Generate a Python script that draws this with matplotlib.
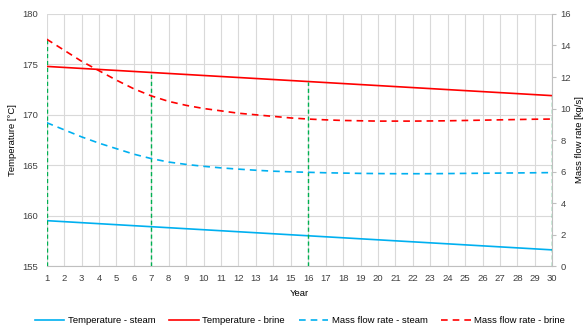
import matplotlib.pyplot as plt

plt.rcParams['font.family'] = ['Liberation Sans', 'DejaVu Sans']

# Data
years = list(range(1, 31))
temp_steam = [159.5, 159.4, 159.3, 159.2, 159.1, 159.0, 158.9, 158.8, 158.7, 158.6,
              158.5, 158.4, 158.3, 158.2, 158.1, 158.0, 157.9, 157.8, 157.7, 157.6,
              157.5, 157.4, 157.3, 157.2, 157.1, 157.0, 156.9, 156.8, 156.7, 156.6]
temp_brine = [174.8, 174.7, 174.6, 174.5, 174.4, 174.3, 174.2, 174.1, 174.0, 173.9,
              173.8, 173.7, 173.6, 173.5, 173.4, 173.3, 173.2, 173.1, 173.0, 172.9,
              172.8, 172.7, 172.6, 172.5, 172.4, 172.3, 172.2, 172.1, 172.0, 171.9]
flow_steam = [9.1, 8.65, 8.2, 7.8, 7.45, 7.1, 6.82, 6.6, 6.45, 6.33,
              6.23, 6.15, 6.08, 6.02, 5.98, 5.95, 5.92, 5.9, 5.88, 5.87,
              5.86, 5.86, 5.86, 5.87, 5.88, 5.89, 5.9, 5.91, 5.92, 5.93]
flow_brine = [14.4, 13.7, 13.0, 12.4, 11.8, 11.25, 10.8, 10.45, 10.2, 10.0,
              9.85, 9.7, 9.6, 9.5, 9.4, 9.33, 9.28, 9.24, 9.22, 9.2,
              9.2, 9.2, 9.21, 9.22, 9.24, 9.26, 9.28, 9.3, 9.32, 9.33]
marker_years = [1, 7, 16, 30]

blue = '#00B0F0'
red = '#FF0000'
green = '#00B050'
grid_c = '#D9D9D9'
fs = 6.8

fig = plt.figure(figsize=(5.85, 3.27), dpi=100)
ax = fig.add_axes([0.0798, 0.1865, 0.8643, 0.7707])
ax2 = ax.twinx()

ax.set_xlim(1, 30)
ax.set_ylim(155, 180)
ax2.set_ylim(0, 16)

# green markers from the bottom up to the highest brine curve
for yr in marker_years:
    i = years.index(yr)
    top = max(temp_brine[i], 155 + flow_brine[i] * 25 / 16)
    ax.plot([yr, yr], [155, top], color=green, lw=1.0, ls=(0, (3, 2)), zorder=4)

l1, = ax.plot(years, temp_steam, color=blue, lw=1.2, label='Temperature - steam', zorder=3)
l2, = ax.plot(years, temp_brine, color=red, lw=1.2, label='Temperature - brine', zorder=3)
l3, = ax2.plot(years, flow_steam, color=blue, lw=1.2, ls=(0, (4, 3)), label='Mass flow rate - steam')
l4, = ax2.plot(years, flow_brine, color=red, lw=1.2, ls=(0, (4, 3)), label='Mass flow rate - brine')

ax.set_xticks(years)
ax.set_yticks(range(155, 181, 5))
ax2.set_yticks(range(0, 17, 2))
ax.grid(True, color=grid_c, lw=0.8)
ax.set_axisbelow(True)

for a in (ax, ax2):
    for s in a.spines.values():
        s.set_visible(False)
ax.spines['bottom'].set_visible(True)
ax.spines['bottom'].set_color('#BFBFBF')
ax2.spines['right'].set_visible(True)
ax2.spines['right'].set_color('#BFBFBF')

ax.tick_params(axis='x', length=0, pad=6, labelsize=fs, colors='#404040')
ax.tick_params(axis='y', length=0, pad=6, labelsize=fs, colors='#404040')
ax2.tick_params(axis='y', length=3, width=0.8, color='#BFBFBF', pad=3,
                labelsize=fs, labelcolor='#404040')

ax.set_xlabel('Year', fontsize=fs, labelpad=4)
ax.set_ylabel('Temperature [°C]', fontsize=fs, labelpad=4)
ax2.set_ylabel('Mass flow rate [kg/s]', fontsize=fs, labelpad=3)

fig.legend(handles=[l1, l2, l3, l4], loc='center', bbox_to_anchor=(0.513, 0.02),
           ncol=4, frameon=False, fontsize=fs, handlelength=3.1,
           handletextpad=0.4, columnspacing=1.45)

fig.savefig('out.png', dpi=100)
